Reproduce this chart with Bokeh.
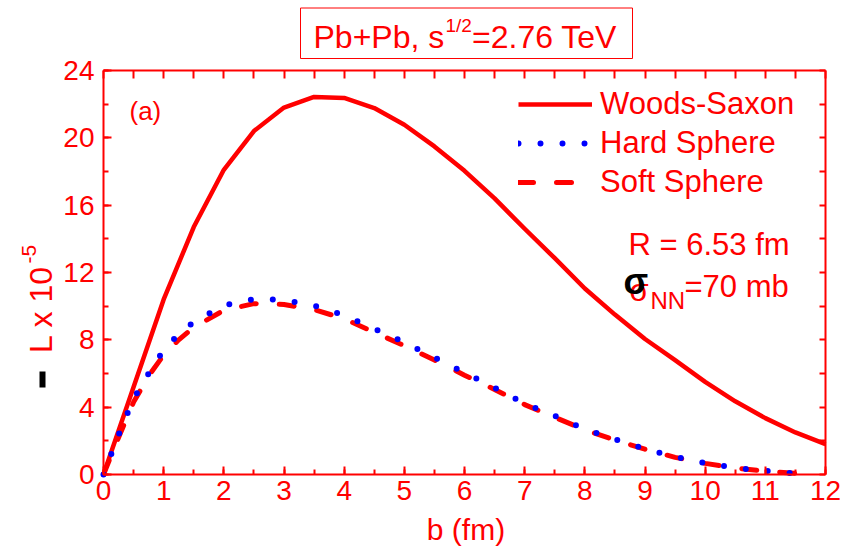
import math
from bokeh.plotting import figure
from bokeh.models import (Range1d, LinearAxis, SingleIntervalTicker, Legend, LegendItem,
                          Label, BoxAnnotation, CustomJSTickFormatter)
from bokeh.embed import file_html
from bokeh.resources import INLINE

# ---------------- data ----------------
b_ws = [0, 0.5, 1, 1.5, 2, 2.5, 3, 3.5, 4, 4.5, 5, 5.5, 6, 6.5, 7, 7.5, 8, 8.5, 9, 9.5,
        10, 10.5, 11, 11.5, 12]
L_ws = [0, 5.2, 10.4, 14.7, 18.1, 20.4, 21.8, 22.43, 22.37, 21.77, 20.78, 19.49, 18.04,
        16.4, 14.6, 12.85, 11.05, 9.5, 8.05, 6.8, 5.5, 4.35, 3.35, 2.5, 1.8]

b_hs = [0, 0.25, 0.5, 0.75, 1, 1.25, 1.5, 2, 2.5, 3, 3.5, 4, 4.5, 5, 5.5, 6, 6.5, 7,
        7.5, 8, 8.5, 9, 9.5, 10, 10.5, 11, 11.5, 11.7]
L_hs = [0, 2.35, 4.5, 6.0, 7.4, 8.35, 9.05, 10.05, 10.42, 10.37, 10.03, 9.45, 8.65, 7.85,
        6.95, 6.05, 5.15, 4.22, 3.48, 2.7, 2.09, 1.52, 1.05, 0.68, 0.39, 0.22, 0.06, 0.01]

b_ss = [0, 0.25, 0.5, 0.75, 1, 1.25, 1.5, 2, 2.5, 3, 3.5, 4, 4.5, 5, 5.5, 6, 6.5, 7,
        7.5, 8, 8.5, 9, 9.5, 10, 10.5, 11, 11.5, 11.65]
L_ss = [0, 2.2, 4.3, 5.85, 7.1, 8.0, 8.75, 9.75, 10.15, 10.1, 9.8, 9.25, 8.45, 7.65,
        6.8, 5.9, 5.05, 4.15, 3.4, 2.65, 2.05, 1.5, 1.02, 0.66, 0.38, 0.2, 0.07, 0.05]

series_names = ["Woods-Saxon", "Hard Sphere", "Soft Sphere"]
x_min, x_max = 0, 12
y_min, y_max = 0, 24
x_ticks_interval = 1
y_ticks_interval = 4

RED = "#ff0000"
BLUE = "#0000ff"
FONT = "Liberation Sans"

# ---------------- geometry ----------------
W, H = 843, 549                 # canvas
FL, FT, FR, FB = 103, 70, 825, 474   # where the axes box sits on the canvas (px)
SX = (FR - FL) / (x_max - x_min)
SY = (FB - FT) / (y_max - y_min)
def bx(px):
    return x_min + (px - FL) / SX
def ly(py):
    return y_min + (FB - py) / SY

# the frame covers the whole canvas; axes are pinned at the data box edges
p = figure(width=W, height=H, x_range=Range1d(bx(0), bx(W)), y_range=Range1d(ly(H), ly(0)),
           output_backend="svg", toolbar_location=None, min_border=0,
           outline_line_color=None, background_fill_color="white")
p.grid.visible = False

def style_axis(ax, major_in, minor_in, labels=True, size="28px"):
    ax.axis_line_color = RED
    ax.axis_line_width = 2
    ax.major_tick_line_color = RED
    ax.major_tick_line_width = 2
    ax.minor_tick_line_color = RED
    ax.minor_tick_line_width = 2
    ax.major_tick_in = major_in
    ax.major_tick_out = 0
    ax.minor_tick_in = minor_in
    ax.minor_tick_out = 0
    ax.major_label_text_color = RED
    ax.major_label_text_font = FONT
    ax.major_label_text_font_size = size
    if not labels:
        ax.formatter = CustomJSTickFormatter(code="return ''")

xa = p.xaxis[0]
xa.ticker = SingleIntervalTicker(interval=x_ticks_interval, num_minor_ticks=2)
xa.fixed_location = y_min
xa.bounds = (x_min, x_max)
style_axis(xa, 8, 5)
xa.major_label_standoff = 6

ya = p.yaxis[0]
ya.ticker = SingleIntervalTicker(interval=y_ticks_interval, num_minor_ticks=2)
ya.fixed_location = x_min
ya.bounds = (y_min, y_max)
style_axis(ya, 8, 5)
ya.major_label_standoff = 9

top = LinearAxis(ticker=SingleIntervalTicker(interval=0.5, num_minor_ticks=0),
                 fixed_location=y_max, bounds=(x_min, x_max))
style_axis(top, 8, 0, labels=False)
p.add_layout(top, "above")

right = LinearAxis(ticker=SingleIntervalTicker(interval=2, num_minor_ticks=0),
                   fixed_location=x_max, bounds=(y_min, y_max))
style_axis(right, 6, 0, labels=False)
p.add_layout(right, "right")

# ---------------- curves ----------------
r_ws = p.line(b_ws, L_ws, line_color=RED, line_width=4.5, line_join="round")
r_ss = p.line(b_ss, L_ss, line_color=RED, line_width=5, line_dash="15 23",
              line_cap="round", line_join="round")
r_hs = p.line(b_hs, L_hs, line_color=BLUE, line_width=6, line_dash="0 22",
              line_cap="round", line_join="round")

legend = Legend(items=[LegendItem(label=series_names[0], renderers=[r_ws]),
                       LegendItem(label=series_names[1], renderers=[r_hs]),
                       LegendItem(label=series_names[2], renderers=[r_ss])],
                location=(518, H - 200), margin=0, padding=0, spacing=3,
                glyph_width=74, glyph_height=36, label_height=36, label_width=195,
                label_standoff=8, label_text_font=FONT, label_text_font_size="31px",
                label_text_color=RED, background_fill_alpha=0, border_line_alpha=0)
p.add_layout(legend)

# ---------------- texts ----------------
SHIFT = 0.31   # baseline correction, in em

def lab(px, py, text, size, color=RED, style="normal", angle=0.0, align="left"):
    s = float(size.replace("px", ""))
    if angle:
        px = px - SHIFT * s
    else:
        py = py - SHIFT * s
    p.add_layout(Label(x=bx(px), y=ly(py), text=text, text_font=FONT,
                       text_font_size=size, text_color=color, text_font_style=style,
                       angle=angle, text_align=align, text_baseline="alphabetic"))

# title box
p.add_layout(BoxAnnotation(left=bx(300), right=bx(632), top=ly(7.5), bottom=ly(58),
                           fill_color=None, fill_alpha=0, line_color=RED, line_alpha=1,
                           line_width=1))
lab(313, 46.7, "Pb+Pb, s", "32px")
lab(445, 31, "1/2", "19px")
lab(471.5, 46.7, "=2.76 TeV", "32px")

lab(129, 118.3, "(a)", "26px")

lab(628, 253.3, "R = 6.53 fm", "31px")
lab(629, 300, "σ", "31px")
lab(623, 292, "σ", "36px", color="black", style="bold")
lab(650, 307, "NN", "24px")
lab(684, 295.3, "=70 mb", "31px")

# axis titles
lab(465.5, 538, "b (fm)", "30px", align="center")
lab(50, 352.5, "L x 10", "32px", angle=math.pi / 2)
lab(35, 263, "-5", "21px", angle=math.pi / 2)
p.add_layout(BoxAnnotation(left=bx(39), right=bx(45), top=ly(371), bottom=ly(387),
                           fill_color="black", fill_alpha=1, line_alpha=0))

open("out.html", "w").write(file_html(p, INLINE))
